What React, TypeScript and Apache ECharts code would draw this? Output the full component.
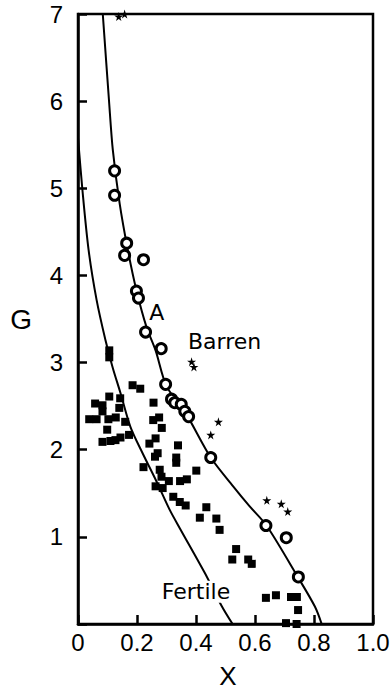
import React, { useEffect, useRef } from "react";
import * as echarts from "echarts";

// Barren curve (through circles)
const barrenCurve: [number, number][] = [
  [0.084, 7.0], [0.105, 6.01], [0.118, 5.44], [0.141, 4.83], [0.169, 4.29],
  [0.198, 3.83], [0.232, 3.41], [0.263, 3.14], [0.3, 2.73], [0.365, 2.42],
  [0.45, 1.91], [0.526, 1.58], [0.582, 1.35], [0.639, 1.13], [0.745, 0.54],
  [0.803, 0.2], [0.826, 0.0],
];

// Fertile curve
const fertileCurve: [number, number][] = [
  [0.0, 5.58], [0.015, 4.98], [0.036, 4.29], [0.063, 3.72], [0.093, 3.26],
  [0.117, 2.95], [0.144, 2.65], [0.178, 2.26], [0.219, 1.96], [0.267, 1.63],
  [0.311, 1.31], [0.345, 1.1], [0.43, 0.585], [0.487, 0.207], [0.524, 0.0],
];

// Barren samples (open circles)
const circles: [number, number][] = [
  [0.124, 5.2], [0.124, 4.92], [0.165, 4.37], [0.158, 4.23], [0.222, 4.18],
  [0.198, 3.82], [0.205, 3.74], [0.229, 3.35], [0.282, 3.16], [0.297, 2.75],
  [0.317, 2.58], [0.328, 2.54], [0.35, 2.52], [0.362, 2.44], [0.375, 2.38],
  [0.45, 1.91], [0.637, 1.13], [0.706, 0.99], [0.747, 0.54],
];

// Fertile samples (filled squares)
const squares: [number, number][] = [
  [0.106, 3.14], [0.106, 3.06], [0.185, 2.74], [0.211, 2.7], [0.106, 2.61],
  [0.143, 2.59], [0.058, 2.53], [0.083, 2.51], [0.083, 2.44], [0.14, 2.48],
  [0.256, 2.54], [0.038, 2.35], [0.063, 2.35], [0.103, 2.35], [0.128, 2.37],
  [0.16, 2.32], [0.255, 2.34], [0.275, 2.37], [0.099, 2.23], [0.284, 2.25],
  [0.083, 2.09], [0.11, 2.1], [0.127, 2.11], [0.144, 2.14], [0.173, 2.17],
  [0.263, 2.13], [0.242, 2.07], [0.339, 2.05], [0.27, 1.96], [0.261, 1.92],
  [0.333, 1.91], [0.333, 1.85], [0.222, 1.8], [0.401, 1.76], [0.277, 1.77],
  [0.283, 1.69], [0.308, 1.64], [0.346, 1.64], [0.369, 1.66], [0.263, 1.58],
  [0.287, 1.56], [0.323, 1.46], [0.345, 1.4], [0.365, 1.36], [0.435, 1.34],
  [0.413, 1.22], [0.469, 1.21], [0.48, 1.08], [0.536, 0.86], [0.523, 0.74],
  [0.577, 0.74], [0.589, 0.69], [0.637, 0.3], [0.671, 0.33], [0.722, 0.31],
  [0.742, 0.31], [0.746, 0.16], [0.705, 0.01], [0.741, 0.0],
];

// Stars
const stars: [number, number][] = [
  [0.138, 6.97], [0.158, 7.0], [0.385, 3.01], [0.393, 2.95], [0.476, 2.32],
  [0.45, 2.17], [0.64, 1.42], [0.689, 1.38], [0.711, 1.29],
];

// Annotations
const annotations: { name: string; value: [number, number] }[] = [
  { name: "A", value: [0.267, 3.57] },
  { name: "Barren", value: [0.497, 3.24] },
  { name: "Fertile", value: [0.4, 0.37] },
];

const xTicks = [0, 0.2, 0.4, 0.6, 0.8, 1.0];
const yTicks = [1, 2, 3, 4, 5, 6, 7];

const FONT = "Liberation Sans, Arial, sans-serif";
const LABEL_FONT = "DejaVu Sans, Liberation Sans, sans-serif";
const STAR =
  "path://M50,0 L61,35 L98,35 L68,57 L79,91 L50,70 L21,91 L32,57 L2,35 L39,35 Z";

export default function App() {
  const ref = useRef<HTMLDivElement>(null);
  useEffect(() => {
    if (!ref.current) return;
    const chart = echarts.init(ref.current, undefined, { renderer: "svg" });
    chart.setOption({
      animation: false,
      backgroundColor: "#ffffff",
      grid: {
        left: 78,
        right: 19,
        top: 14,
        bottom: 66,
        containLabel: false,
        outerBoundsMode: "none",
        show: true,
        borderColor: "#000",
        borderWidth: 2.5,
      },
      xAxis: {
        type: "value",
        min: xTicks[0],
        max: xTicks[xTicks.length - 1],
        interval: 0.2,
        name: "X",
        nameLocation: "middle",
        nameGap: 39,
        nameTextStyle: {
          fontSize: 26,
          lineHeight: 26,
          color: "#000",
          fontFamily: FONT,
          padding: [0, 0, 0, 5],
        },
        axisLine: { show: true, lineStyle: { color: "#000", width: 2.5 } },
        axisTick: { show: true, inside: true, length: 9, lineStyle: { color: "#000", width: 2.5 } },
        axisLabel: {
          fontSize: 24,
          color: "#000",
          fontFamily: FONT,
          margin: 6,
          formatter: (v: number) => (v === 0 ? "0" : v.toFixed(1)),
        },
        splitLine: { show: false },
      },
      yAxis: {
        type: "value",
        min: 0,
        max: 7,
        interval: 1,
        name: "G",
        nameLocation: "middle",
        nameRotate: 0,
        nameGap: 46,
        nameTextStyle: { fontSize: 28, color: "#000", fontFamily: FONT, padding: [10, 0, 0, 0] },
        axisLine: { show: true, lineStyle: { color: "#000", width: 2.5 } },
        axisTick: { show: true, inside: true, length: 9, lineStyle: { color: "#000", width: 2.5 } },
        axisLabel: {
          fontSize: 24,
          color: "#000",
          fontFamily: FONT,
          margin: 15,
          padding: [16, 0, 0, 0],
          formatter: (v: number) => (yTicks.includes(v) ? String(v) : ""),
        },
        splitLine: { show: false },
      },
      series: [
        {
          type: "scatter",
          data: squares,
          symbol: "rect",
          symbolSize: 8,
          itemStyle: { color: "#000", opacity: 1 },
          z: 2,
        },
        {
          type: "scatter",
          data: stars,
          symbol: STAR,
          symbolSize: 9,
          itemStyle: { color: "#000", opacity: 1 },
          z: 2,
        },
        {
          type: "line",
          data: barrenCurve,
          smooth: 0.3,
          showSymbol: false,
          symbol: "none",
          lineStyle: { color: "#000", width: 2 },
          z: 3,
        },
        {
          type: "line",
          data: fertileCurve,
          smooth: 0.3,
          showSymbol: false,
          symbol: "none",
          lineStyle: { color: "#000", width: 2 },
          z: 3,
        },
        {
          type: "scatter",
          data: circles,
          symbol: "circle",
          symbolSize: 10,
          itemStyle: { color: "#fff", borderColor: "#000", borderWidth: 3, opacity: 1 },
          z: 4,
        },
        {
          type: "scatter",
          data: annotations,
          symbolSize: 0,
          silent: true,
          z: 5,
          itemStyle: { opacity: 1 },
          label: {
            show: true,
            position: "inside",
            formatter: "{b}",
            fontSize: 22,
            color: "#000",
            fontFamily: LABEL_FONT,
            backgroundColor: "#fff",
            padding: [0, 2],
          },
        },
      ],
    });
    return () => chart.dispose();
  }, []);
  return (
    <div
      ref={ref}
      style={{ position: "absolute", left: 0, top: 0, width: 392, height: 690 }}
    />
  );
}
